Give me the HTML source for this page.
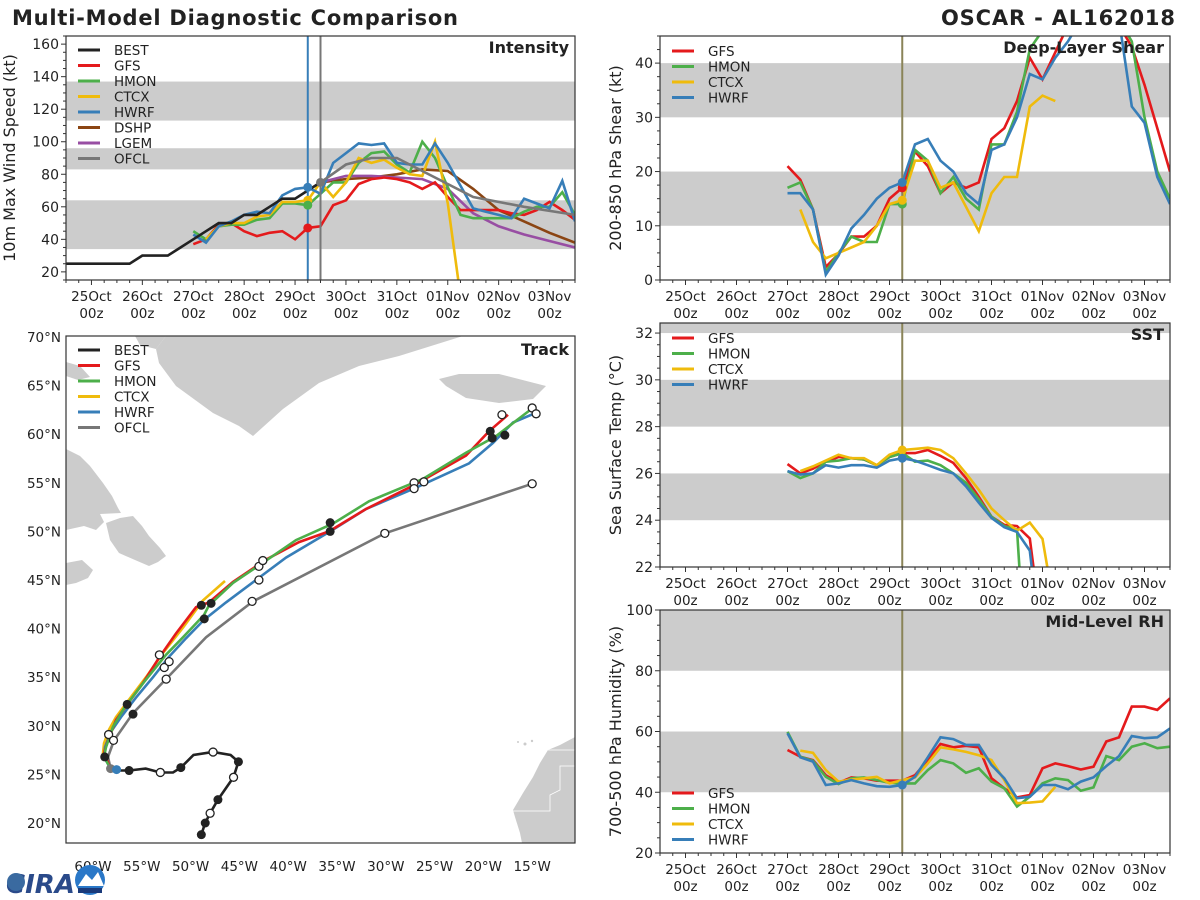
<!DOCTYPE html>
<html><head><meta charset="utf-8"><title>OSCAR - AL162018</title>
<style>
html,body{margin:0;padding:0;background:#fff;}
svg{display:block;font-family:"DejaVu Sans","Liberation Sans",sans-serif;}
</style></head>
<body>
<svg id="chart" xmlns="http://www.w3.org/2000/svg" width="1200" height="900" viewBox="0 0 1200 900">
<defs>
<clipPath id="clipInt"><rect x="66" y="36" width="509" height="244"/></clipPath>
<clipPath id="clipShear"><rect x="660" y="36" width="510" height="244"/></clipPath>
<clipPath id="clipSst"><rect x="660" y="323" width="510" height="244"/></clipPath>
<clipPath id="clipRh"><rect x="660" y="610" width="510" height="243"/></clipPath>
<clipPath id="clipMap"><rect x="66" y="336" width="509" height="507"/></clipPath>
</defs>
<rect x="0" y="0" width="1200" height="900" fill="#fff"/>
<text x="12" y="25" font-size="21" font-weight="bold" fill="#222" textLength="446">Multi-Model Diagnostic Comparison</text>
<text x="1175" y="25" font-size="21" font-weight="bold" fill="#222" text-anchor="end" textLength="234">OSCAR - AL162018</text>
<g id="map-land" clip-path="url(#clipMap)" fill="#cccccc">
<polygon points="166,336 463,336 399,356 359,366 319,383 283,409 253,436 239,426 213,413 176,386 159,363 156,349"/>
<polygon points="135,336 166,336 156,349 140,345"/>
<polygon points="66,362 80,366 90,377 78,380 66,376"/>
<polygon points="439,379 459,374 499,374 546,386 533,399 499,403 466,398 446,386"/>
<polygon points="66,449 80,456 90,466 103,483 112,496 118,508 121,513 100,514 66,514"/>
<polygon points="66,514 100,514 104,522 96,530 84,526 66,530"/>
<polygon points="106,523 120,518 133,516 142,526 149,536 160,548 166,556 158,562 149,566 135,560 119,553 110,540"/>
<polygon points="66,563 82,560 93,570 88,578 76,583 66,585"/>
<polygon points="575,737 560,745 548,750 540,763 533,777 523,793 513,810 515,817 520,833 522,843 575,843"/>
<polyline points="548,750 575,750" fill="none" stroke="#fff" stroke-width="0.8"/>
<polyline points="575,766 560,766 560,790 550,795 550,811 513,811" fill="none" stroke="#fff" stroke-width="0.8"/>
<circle cx="525" cy="744" r="1.5"/><circle cx="518" cy="742" r="1"/><circle cx="532" cy="741" r="1.2"/>
</g>
<g id="logo">
<text x="6" y="893" font-size="26" font-weight="bold" fill="#2a4a8a" font-style="italic">CIRA</text>
<circle cx="16" cy="882" r="9" fill="#3a6aa0"/>
<circle cx="90" cy="880" r="15" fill="#2a78c8"/>
<polygon points="78,886 86,874 92,880 98,872 104,886" fill="#fff"/>
<rect x="78" y="888" width="24" height="5" fill="#1a3a7a"/>
</g>
</svg>
<script>
// ===== Time axis =====
const dayLabels = ["25Oct","26Oct","27Oct","28Oct","29Oct","30Oct","31Oct","01Nov","02Nov","03Nov"];
const hourLabel = "00z";
// ===== Intensity (kt), 6-hourly =====
const intBestStart = -0.5;
const intBest = [25,25,25,25,25,25,30,30,30,35,40,45,50,50,55,55,60,65,65,70,75];
const intGfsStart = 2.0;
const intGfs = [37,40,49,50,45,42,44,45,40,47,48,61,64,74,77,78,77,75,71,75,66,58,58,58,58,56,55,58,63,58,52];
const intHmonStart = 2.0;
const intHmon = [45,40,48,49,49,52,53,62,62,61,68,75,75,87,93,94,86,81,100,90,72,55,53,53,53,53,57,60,60,69,55];
const intCtcxStart = 2.25;
const intCtcx = [40,48,50,50,54,55,63,63,64,75,66,75,90,87,89,84,80,79,100,62,5];
const intHwrfStart = 2.0;
const intHwrf = [43,38,48,51,55,57,56,67,71,72,68,87,93,99,98,99,87,86,86,99,87,73,59,57,55,53,65,62,59,76,51];
const intDshpTimes = [4.5,5.0,5.5,6.0,6.5,7.0,7.5,8.0,8.5,9.0,9.5];
const intDshp = [75,77,78,80,83,82,71,58,51,44,38];
const intLgemTimes = [4.5,5.0,5.5,6.0,6.5,7.0,7.5,8.0,8.5,9.0,9.5];
const intLgem = [75,79,79,78,77,71,56,48,43,39,35];
const intOfclTimes = [4.5,5.0,5.5,6.0,6.5,7.5,8.5,9.5];
const intOfcl = [75,86,90,90,82,66,60,55];
const intBands = [[34,64],[83,96],[113,137]];
const intTicks = [20,40,60,80,100,120,140,160];
// ===== Shear (kt) =====
const shearGfs = [21,18.5,13,2.4,4.8,8,8,10,15,17,23.7,21,16,18,17,18,26,28,33,41,37,42,47,50,52,50,47,43,36,28,20];
const shearHmon = [17,18,13,1.5,5,8,7,7,14,14,24,22,16,19,15,13,25,25,31,42.6,46,50,52,55,55,52,48,44,30,20,15];
const shearHwrf = [16,16,13,1,4.5,9.5,12,15,17,18,25,26,22,20,16,14,24,25,30,38,37,41,44,48,52,52,48,32,29,19,14];
const shearCtcx = [13,7,4,5,6,7,10,14,14.7,22,22,17,18,13.5,9,16,19,19,32,34,33];
const shearBands = [[10,20],[30,40]];
const shearTicks = [0,10,20,30,40];
// ===== SST (C) =====
const sstGfs = [26.4,26.0,26.2,26.5,26.7,26.65,26.6,26.35,26.7,26.87,26.87,27.0,26.75,26.45,25.8,25.0,24.15,23.8,23.75,23.22,19];
const sstHmon = [26.1,25.8,26.0,26.5,26.55,26.65,26.6,26.35,26.7,26.87,26.5,26.55,26.35,26.0,25.6,24.9,24.15,23.75,23.6,15];
const sstHwrf = [26.1,25.95,26.0,26.35,26.25,26.35,26.35,26.25,26.55,26.65,26.55,26.35,26.15,26.0,25.45,24.75,24.1,23.7,23.5,22.7,18];
const sstCtcx = [26.1,26.3,26.55,26.8,26.65,26.65,26.35,26.8,27.0,27.05,27.1,27.0,26.65,26.0,25.3,24.5,24.0,23.55,23.9,23.2,20];
const sstBands = [[24,26],[28,30],[32,34]];
const sstTicks = [22,24,26,28,30,32];
// ===== Mid-level RH (%) =====
const rhGfs = [53.9,51.7,50.6,45.6,43.1,44.9,44.6,43.8,43.8,43.8,45.6,50.6,55.9,54.8,55.3,54.8,44.6,41.3,38.3,39.1,47.9,49.5,48.6,47.5,48.4,56.7,58.1,68.2,68.2,67.1,70.9];
const rhHmon = [59.9,51.7,50.4,45.1,42.7,44.6,44.9,44.0,43.1,42.9,42.9,47.3,50.6,49.5,46.4,47.9,43.5,41.3,35.3,38.5,42.9,44.6,44.0,40.5,41.6,51.9,50.6,55.0,56.1,54.5,55.0];
const rhHwrf = [59.4,51.5,50.1,42.4,42.9,44.0,42.9,42.0,41.8,42.4,45.1,51.5,58.1,57.5,55.6,55.6,49.0,44.6,38.0,38.5,42.4,42.4,41.0,43.5,44.9,48.6,51.9,58.5,57.8,58.1,61.0];
const rhCtcx = [53.7,53.0,47.3,43.5,44.2,44.6,45.1,42.9,44.0,44.9,49.5,54.8,54.1,53.3,52.2,50.6,44.0,36.4,36.6,37.0,41.8];
const rhBands = [[40,60],[80,100]];
const rhTicks = [20,40,60,80,100];
// ===== Track (deg lon, deg lat) =====
const bestLon = [-48.9,-48.5,-48.0,-47.2,-45.6,-45.1,-45.9,-47.7,-49.7,-51.0,-51.8,-53.1,-54.6,-56.3,-57.3,-58.2];
const bestLat = [18.8,20.0,21.0,22.4,24.7,26.3,27.0,27.3,27.0,25.7,25.2,25.2,25.6,25.4,25.4,25.6];
const gfsLon = [-58.2,-58.87,-58.46,-57.64,-56.41,-54.88,-53.24,-51.50,-49.45,-48.11,-45.66,-42.27,-38.89,-35.82,-32.03,-27.21,-21.78,-19.43,-17.48];
const gfsLat = [25.6,27.2,28.5,30.6,32.3,34.4,37.0,39.5,42.2,42.7,44.8,47.1,48.9,50.0,52.3,54.7,57.8,60.3,62.0];
const hmonLon = [-58.2,-58.87,-58.67,-57.95,-56.82,-54.77,-52.52,-50.78,-48.63,-48.11,-45.66,-42.99,-39.20,-35.41,-31.72,-26.19,-21.78,-18.71,-15.33];
const hmonLat = [25.6,26.8,27.8,29.9,31.8,34.5,37.3,39.1,41.4,42.4,44.7,46.5,49.1,50.8,53.1,55.4,58.1,59.8,62.4];
const ctcxLon = [-58.2,-58.98,-58.87,-58.36,-57.64,-56.31,-54.57,-52.83,-50.78,-48.73,-46.48];
const ctcxLat = [25.6,27.2,28.2,29.6,30.9,32.7,35.0,37.5,40.1,42.9,44.9];
const hwrfLon = [-58.2,-58.87,-58.77,-58.16,-57.13,-55.59,-53.85,-52.21,-50.47,-48.63,-46.37,-43.30,-40.23,-35.7,-32.03,-26.91,-21.48,-19.02,-16.97,-14.61];
const hwrfLat = [25.6,26.8,27.8,29.4,30.9,32.9,35.0,37.1,39.0,40.9,42.7,45.0,47.3,50.0,52.3,54.5,57.0,59.1,61.2,62.2];
const ofclLon = [-58.2,-58.46,-57.85,-55.90,-52.52,-48.42,-43.61,-30.08,-15.02];
const ofclLat = [25.6,26.8,28.5,31.3,34.8,39.1,42.8,49.8,54.9];
const bestFilledLon = [-48.9,-48.5,-47.2,-45.1,-51.0,-56.3];
const bestFilledLat = [18.8,20.0,22.4,26.3,25.7,25.4];
const bestOpenLon = [-47.7,-45.6,-48.0,-53.1];
const bestOpenLat = [27.3,24.7,21.0,25.2];
const fcFilledLon = [-58.8,-56.5,-55.9,-48.9,-47.9,-48.6,-35.7,-35.7,-19.3,-19.1,-17.8];
const fcFilledLat = [26.8,32.2,31.2,42.4,42.6,41.0,50.9,50.0,60.3,59.6,59.9];
const fcOpenLon = [-58.4,-57.9,-53.2,-52.7,-52.2,-52.5,-43.0,-42.6,-43.0,-43.7,-30.1,-27.1,-27.1,-26.1,-15.0,-18.1,-15.0,-14.6];
const fcOpenLat = [29.1,28.5,37.3,36.0,36.6,34.8,46.4,47.0,45.0,42.8,49.8,55.0,54.4,55.1,54.9,62.0,62.7,62.1];
const lonTicks = [-60,-55,-50,-45,-40,-35,-30,-25,-20,-15];
const latTicks = [20,25,30,35,40,45,50,55,60,65,70];

const C = {BEST:"#222222",GFS:"#e41a1c",HMON:"#4daf4a",CTCX:"#efbb0c",HWRF:"#377eb8",DSHP:"#8b4513",LGEM:"#984ea3",OFCL:"#777777"};
const NS = "http://www.w3.org/2000/svg";
const svg = document.getElementById("chart");
const landNode = document.getElementById("map-land");
const logoNode = document.getElementById("logo");

function mk(tag, attrs, parent){
  const e = document.createElementNS(NS, tag);
  for (const k in attrs) e.setAttribute(k, attrs[k]);
  parent.appendChild(e);
  return e;
}
function seq(start, vals){ return vals.map((v,i)=>start + i*0.25); }

function panel(cfg){
  const g = mk("g", {}, svg);
  
  
  const xs = d => cfg.x0 + (d + 0.5) / 10 * (cfg.x1 - cfg.x0);
  const ys = v => cfg.y1 - (v - cfg.ymin) / (cfg.ymax - cfg.ymin) * (cfg.y1 - cfg.y0);
  const clip = mk("g", {"clip-path": "url(#" + cfg.clip + ")"}, g);
  
  
  cfg.bands.forEach((b, i) => {
    const r = mk("rect", {x: cfg.x0, y: ys(b[1]), width: cfg.x1 - cfg.x0, height: ys(b[0]) - ys(b[1]), fill: "#cccccc"}, clip);
    
    
  });
  cfg.series.forEach(s => {
    const pts = s.vals.map((v, i) => xs(s.t[i]).toFixed(1) + "," + ys(v).toFixed(1)).join(" ");
    const p = mk("polyline", {points: pts, fill: "none", stroke: C[s.model], "stroke-width": 2.6, "stroke-linejoin": "miter"}, clip);
    
    
  });
  cfg.vlines.forEach(v => {
    const l = mk("line", {x1: xs(v.d), x2: xs(v.d), y1: cfg.y0, y2: cfg.y1, stroke: v.c, "stroke-width": 2}, clip);
    
    
  });
  cfg.markers.forEach(m => {
    const c = mk("circle", {cx: xs(m.d), cy: ys(m.v), r: 4.5, fill: C[m.model]}, clip);
    
    
  });
  const fr = mk("rect", {x: cfg.x0, y: cfg.y0, width: cfg.x1 - cfg.x0, height: cfg.y1 - cfg.y0, fill: "none", stroke: "#333", "stroke-width": 1.2}, g);
  
  
  for (let i = -2; i <= 39; i++) {
    const d = i * 0.25;
    if (d < -0.5 || d > 9.5) continue;
    const major = (i % 4 === 0);
    const t = mk("line", {x1: xs(d), x2: xs(d), y1: cfg.y1, y2: cfg.y1 + (major ? 5 : 3), stroke: "#333", "stroke-width": 1}, g);
    
    
  }
  dayLabels.forEach((lab, i) => {
    const t1 = mk("text", {x: xs(i), y: cfg.y1 + 21, "font-size": 13.5, fill: "#222", "text-anchor": "middle"}, g);
    t1.textContent = lab;
    
    
    const t2 = mk("text", {x: xs(i), y: cfg.y1 + 38, "font-size": 13.5, fill: "#222", "text-anchor": "middle"}, g);
    t2.textContent = hourLabel;
    
    
  });
  for (let v = Math.ceil(cfg.ymin / cfg.minor) * cfg.minor; v <= cfg.ymax + 1e-9; v += cfg.minor) {
    const major = cfg.ticks.some(t => Math.abs(t - v) < 1e-6);
    const t = mk("line", {x1: cfg.x0, x2: cfg.x0 - (major ? 5 : 3), y1: ys(v), y2: ys(v), stroke: "#333", "stroke-width": 1}, g);
    
    
  }
  cfg.ticks.forEach(v => {
    const t = mk("text", {x: cfg.x0 - 7, y: ys(v) + 5, "font-size": 14, fill: "#222", "text-anchor": "end"}, g);
    t.textContent = v;
    
    
  });
  const yl = mk("text", {x: 0, y: 0, "font-size": 16, fill: "#222", "text-anchor": "middle", transform: "translate(" + cfg.ylx + "," + ((cfg.y0 + cfg.y1) / 2) + ") rotate(-90)"}, g);
  yl.textContent = cfg.ylabel;
  
  
  const ti = mk("text", {x: cfg.x1 - 6, y: cfg.y0 + 17, "font-size": 16, "font-weight": "bold", fill: "#222", "text-anchor": "end"}, g);
  ti.textContent = cfg.title;
  
  
  legend(g, cfg.legend, cfg.x0 + 12, cfg.legY, cfg.name);
}

function legend(g, models, x, y, name){
  models.forEach((m, i) => {
    const yy = y + i * 15.5;
    const l = mk("line", {x1: x, x2: x + 22, y1: yy, y2: yy, stroke: C[m], "stroke-width": 3}, g);
    
    
    const t = mk("text", {x: x + 36, y: yy + 5, "font-size": 13.5, fill: "#222"}, g);
    t.textContent = m;
    
    
  });
}

const R = {x0: 660, x1: 1170};
panel({name: "intensity", x0: 66, x1: 575, y0: 36, y1: 280, ymin: 15, ymax: 165, clip: "clipInt",
  bands: intBands, ticks: intTicks, minor: 5, ylx: 15, ylabel: "10m Max Wind Speed (kt)", title: "Intensity", legY: 50,
  legend: ["BEST","GFS","HMON","CTCX","HWRF","DSHP","LGEM","OFCL"],
  series: [
    {model: "DSHP", t: intDshpTimes, vals: intDshp},
    {model: "LGEM", t: intLgemTimes, vals: intLgem},
    {model: "GFS", t: seq(intGfsStart, intGfs), vals: intGfs},
    {model: "HMON", t: seq(intHmonStart, intHmon), vals: intHmon},
    {model: "CTCX", t: seq(intCtcxStart, intCtcx), vals: intCtcx},
    {model: "HWRF", t: seq(intHwrfStart, intHwrf), vals: intHwrf},
    {model: "OFCL", t: intOfclTimes, vals: intOfcl},
    {model: "BEST", t: seq(intBestStart, intBest), vals: intBest}],
  vlines: [{d: 4.25, c: C.HWRF}, {d: 4.5, c: C.OFCL}],
  markers: [{model: "HWRF", d: 4.25, v: intHwrf[9]}, {model: "CTCX", d: 4.25, v: intCtcx[8]}, {model: "HMON", d: 4.25, v: intHmon[9]}, {model: "GFS", d: 4.25, v: intGfs[9]}, {model: "OFCL", d: 4.5, v: intOfcl[0]}]
});
panel({name: "shear", x0: R.x0, x1: R.x1, y0: 36, y1: 280, ymin: 0, ymax: 45, clip: "clipShear",
  bands: shearBands, ticks: shearTicks, minor: 2.5, ylx: 621, ylabel: "200-850 hPa Shear (kt)", title: "Deep-Layer Shear", legY: 51,
  legend: ["GFS","HMON","CTCX","HWRF"],
  series: [
    {model: "GFS", t: seq(2.0, shearGfs), vals: shearGfs},
    {model: "HMON", t: seq(2.0, shearHmon), vals: shearHmon},
    {model: "CTCX", t: seq(2.25, shearCtcx), vals: shearCtcx},
    {model: "HWRF", t: seq(2.0, shearHwrf), vals: shearHwrf}],
  vlines: [{d: 4.25, c: "#8a8458"}],
  markers: [{model: "GFS", d: 4.25, v: shearGfs[9]}, {model: "HMON", d: 4.25, v: shearHmon[9]}, {model: "CTCX", d: 4.25, v: shearCtcx[8]}, {model: "HWRF", d: 4.25, v: shearHwrf[9]}]
});
panel({name: "sst", x0: R.x0, x1: R.x1, y0: 323, y1: 567, ymin: 22, ymax: 32.43, clip: "clipSst",
  bands: sstBands, ticks: sstTicks, minor: 0.5, ylx: 621, ylabel: "Sea Surface Temp (°C)", title: "SST", legY: 338,
  legend: ["GFS","HMON","CTCX","HWRF"],
  series: [
    {model: "GFS", t: seq(2.0, sstGfs), vals: sstGfs},
    {model: "HMON", t: seq(2.0, sstHmon), vals: sstHmon},
    {model: "CTCX", t: seq(2.25, sstCtcx), vals: sstCtcx},
    {model: "HWRF", t: seq(2.0, sstHwrf), vals: sstHwrf}],
  vlines: [{d: 4.25, c: "#8a8458"}],
  markers: [{model: "CTCX", d: 4.25, v: sstCtcx[8]}, {model: "HWRF", d: 4.25, v: sstHwrf[9]}]
});
panel({name: "rh", x0: R.x0, x1: R.x1, y0: 610, y1: 853, ymin: 20, ymax: 100, clip: "clipRh",
  bands: rhBands, ticks: rhTicks, minor: 5, ylx: 621, ylabel: "700-500 hPa Humidity (%)", title: "Mid-Level RH", legY: 793,
  legend: ["GFS","HMON","CTCX","HWRF"],
  series: [
    {model: "GFS", t: seq(2.0, rhGfs), vals: rhGfs},
    {model: "HMON", t: seq(2.0, rhHmon), vals: rhHmon},
    {model: "CTCX", t: seq(2.25, rhCtcx), vals: rhCtcx},
    {model: "HWRF", t: seq(2.0, rhHwrf), vals: rhHwrf}],
  vlines: [{d: 4.25, c: "#8a8458"}],
  markers: [{model: "HWRF", d: 4.25, v: rhHwrf[9]}]
});

(function(){
  const px = lon => 93 + (lon + 60) * 9.76;
  const py = lat => 337 + (70 - lat) * 9.72;
  const g = mk("g", {}, svg);
  
  
  g.appendChild(landNode);
  const clip = mk("g", {"clip-path": "url(#clipMap)"}, g);
  
  
  const tracks = [["OFCL", ofclLon, ofclLat], ["CTCX", ctcxLon, ctcxLat], ["HWRF", hwrfLon, hwrfLat], ["GFS", gfsLon, gfsLat], ["HMON", hmonLon, hmonLat], ["BEST", bestLon, bestLat]];
  tracks.forEach(tr => {
    const pts = tr[1].map((lo, i) => px(lo).toFixed(1) + "," + py(tr[2][i]).toFixed(1)).join(" ");
    const p = mk("polyline", {points: pts, fill: "none", stroke: C[tr[0]], "stroke-width": 2.6}, clip);
    
    
  });
  fcOpenLon.concat(bestOpenLon).forEach((lo, i) => {
    const la = i < fcOpenLon.length ? fcOpenLat[i] : bestOpenLat[i - fcOpenLon.length];
    const c = mk("circle", {cx: px(lo), cy: py(la), r: 4, fill: "#fff", stroke: "#222", "stroke-width": 1.3}, clip);
    
    
  });
  fcFilledLon.concat(bestFilledLon).forEach((lo, i) => {
    const la = i < fcFilledLon.length ? fcFilledLat[i] : bestFilledLat[i - fcFilledLon.length];
    const c = mk("circle", {cx: px(lo), cy: py(la), r: 4.5, fill: "#222"}, clip);
    
    
  });
  const ic1 = mk("circle", {cx: px(bestLon[bestLon.length - 1]), cy: py(bestLat[bestLat.length - 1]), r: 4.5, fill: C.OFCL}, clip);
  
  
  const ic2 = mk("circle", {cx: px(bestLon[bestLon.length - 1]) + 6, cy: py(bestLat[bestLat.length - 1]) + 1, r: 4.5, fill: C.HWRF}, clip);
  
  
  const fr = mk("rect", {x: 66, y: 336, width: 509, height: 507, fill: "none", stroke: "#333", "stroke-width": 1.2}, g);
  
  
  lonTicks.forEach(lo => {
    const t = mk("text", {x: px(lo), y: 871, "font-size": 13.5, fill: "#222", "text-anchor": "middle"}, g);
    t.textContent = Math.abs(lo) + "°W";
    
    
  });
  latTicks.forEach(la => {
    const t = mk("text", {x: 61, y: py(la) + 5, "font-size": 13.5, fill: "#222", "text-anchor": "end"}, g);
    t.textContent = la + "°N";
    
    
  });
  const ti = mk("text", {x: 569, y: 355, "font-size": 16, "font-weight": "bold", fill: "#222", "text-anchor": "end"}, g);
  ti.textContent = "Track";
  
  
  legend(g, ["BEST","GFS","HMON","CTCX","HWRF","OFCL"], 78, 350, "track");
  svg.appendChild(logoNode);
})();
</script>
</body></html>
